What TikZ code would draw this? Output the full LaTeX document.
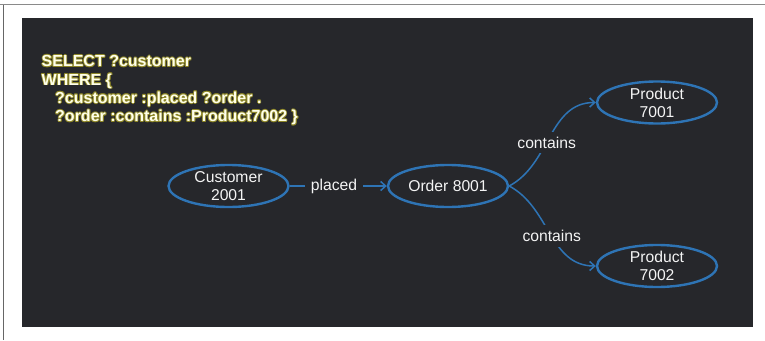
\documentclass[tikz,border=0pt]{standalone}
\usepackage{fontspec}
\setmainfont{Liberation Sans}
\usetikzlibrary{shapes.geometric,arrows.meta}

\definecolor{panel}{HTML}{26272B}
\definecolor{edgeblue}{HTML}{2E74B5}
\definecolor{glowc}{HTML}{8C8526}
\definecolor{cream}{HTML}{FFFFEA}
\definecolor{framegray}{HTML}{8A8A8A}
\definecolor{nodetext}{HTML}{F4F4F4}

% cream text with a thin olive halo behind it
\newcommand\glowline[1]{%
  \makebox[0pt][l]{\color{glowc}%
    \makebox[0pt][l]{\hspace{-0.9pt}#1}%
    \makebox[0pt][l]{\hspace{0.9pt}#1}%
    \makebox[0pt][l]{\raisebox{0.9pt}{#1}}%
    \makebox[0pt][l]{\raisebox{-0.9pt}{#1}}%
    \makebox[0pt][l]{\hspace{0.65pt}\raisebox{0.65pt}{#1}}%
    \makebox[0pt][l]{\hspace{-0.65pt}\raisebox{0.65pt}{#1}}%
    \makebox[0pt][l]{\hspace{0.65pt}\raisebox{-0.65pt}{#1}}%
    \makebox[0pt][l]{\hspace{-0.65pt}\raisebox{-0.65pt}{#1}}}%
  {\color{cream}#1}}

\tikzset{
  sql/.style={anchor=base west, inner sep=0pt,
    font=\fontsize{16}{18}\selectfont\bfseries},
  entity/.style={ellipse, draw=edgeblue, line width=2.4pt,
    minimum width=120pt, minimum height=42pt, inner xsep=0pt, inner ysep=-3pt,
    align=center, text=nodetext, font=\fontsize{15.7}{18}\selectfont},
  edgelbl/.style={fill=panel, text=nodetext, inner xsep=6pt, inner ysep=5pt,
    font=\fontsize{15.7}{18}\selectfont},
  link/.style={draw=edgeblue, line width=1.5pt},
  arrowed/.style={link, -{Straight Barb[length=5pt,width=9pt]}}
}

\begin{document}
\begin{tikzpicture}[x=1pt, y=-1pt]
  \useasboundingbox (0,0) rectangle (765,340);

  % page frame and dark panel
  \draw[framegray, line width=1.6pt] (0,4.5) -- (765,4.5);
  \draw[black!60, line width=1pt] (3.3,4.5) -- (3.3,340);
  \fill[panel] (22,18) rectangle (753,327);

  % query text
  \node[sql] (q1) at (41.5,66.7) {\glowline{SELECT ?customer}};
  \node[sql] (q2) at (41.5,85.0) {\glowline{WHERE \{}};
  \node[sql] (q3) at (55,103.3) {\glowline{?customer :placed ?order .}};
  \node[sql] (q4) at (55,121.7) {\glowline{?order :contains :Product7002 \}}};

  % graph
  \node[entity] (cust) at (228.5,186) {Customer\\2001};
  \node[entity] (order) at (448,186) {Order 8001};
  \node[entity] (p1) at (657,102.5) {Product\\7001};
  \node[entity] (p2) at (657,266) {Product\\7002};

  \node[edgelbl] (placed) at (334,186) {placed};
  \draw[link] (cust.east) -- (placed.west);
  \draw[arrowed] (placed.east) -- (order.west);

  \draw[arrowed] (order.east) to[out=28, in=180]
    node[edgelbl, pos=0.44] (c1) {contains} (p1.west);
  \draw[arrowed] (order.east) to[out=-28, in=180]
    node[edgelbl, pos=0.52] (c2) {contains} (p2.west);
\end{tikzpicture}
\end{document}
